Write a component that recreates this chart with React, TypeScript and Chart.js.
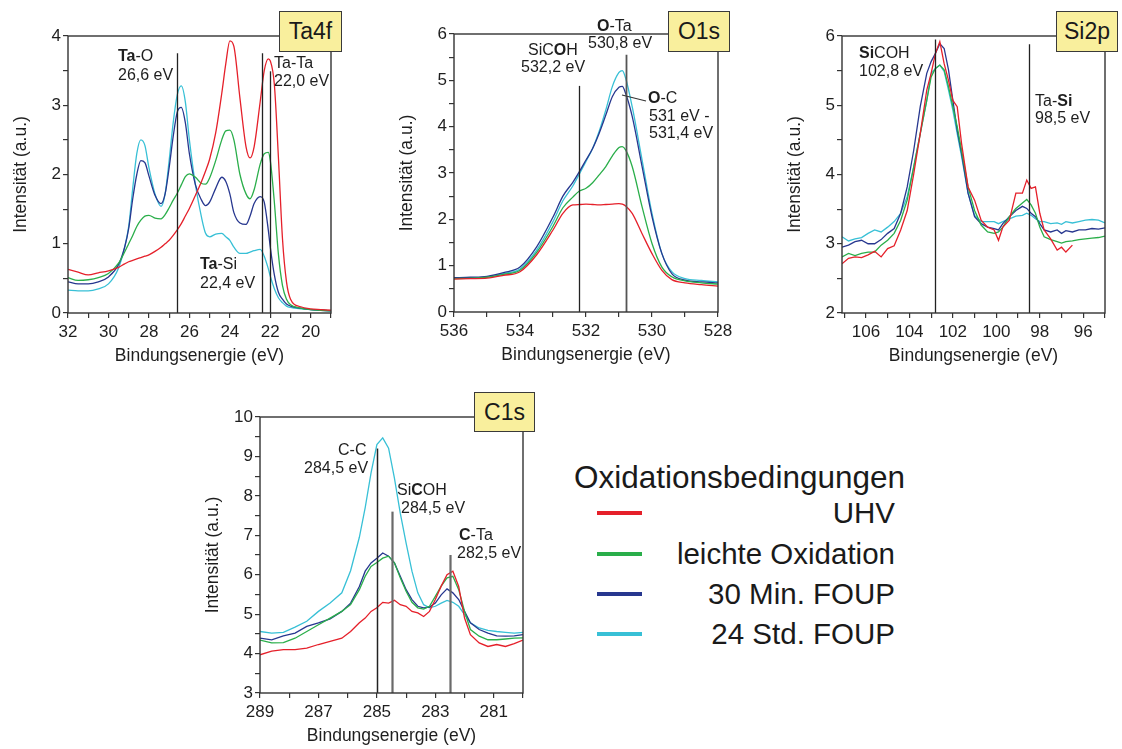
import React, { useEffect, useRef } from "react";
import { Chart, registerables } from "chart.js";

Chart.register(...registerables);

const FONT = '"Liberation Sans", Arial, Helvetica, sans-serif';
Chart.defaults.font.family = FONT;

// ---- series shared by all four spectra ----
const SERIES_NAMES = ["UHV", "leichte Oxidation", "30 Min. FOUP", "24 Std. FOUP"];
const SERIES_COLORS = ["#e5202a", "#2aae4a", "#27378f", "#38c0d6"];

// ---- Ta4f ----
const TA_ENERGY = [32, 31.5, 31, 30.5, 30, 29.5, 29.2, 29, 28.8, 28.6, 28.4, 28.2, 28, 27.7, 27.4, 27.2, 27, 26.8, 26.6, 26.4, 26.2, 26, 25.7, 25.4, 25.2, 25, 24.7, 24.4, 24.2, 24, 23.8, 23.5, 23.2, 23, 22.8, 22.5, 22.3, 22.1, 22, 21.8, 21.6, 21.4, 21.2, 21, 20.5, 20, 19.5, 19];
const TA_UHV = [0.63, 0.59, 0.55, 0.58, 0.61, 0.66, 0.71, 0.74, 0.76, 0.78, 0.8, 0.82, 0.84, 0.89, 0.95, 1.0, 1.05, 1.12, 1.2, 1.29, 1.4, 1.51, 1.7, 1.9, 2.05, 2.22, 2.6, 3.17, 3.6, 3.93, 3.85, 3.1, 2.4, 2.24, 2.4, 3.05, 3.5, 3.67, 3.64, 3.3, 2.25, 1.08, 0.45, 0.2, 0.09, 0.06, 0.05, 0.04];
const TA_LIGHT = [0.51, 0.47, 0.48, 0.51, 0.57, 0.72, 0.88, 1.0, 1.12, 1.25, 1.34, 1.4, 1.41, 1.37, 1.36, 1.42, 1.52, 1.63, 1.73, 1.85, 1.97, 2.01, 1.96, 1.87, 1.86, 1.95, 2.2, 2.5, 2.63, 2.64, 2.5, 2.0, 1.72, 1.65, 1.78, 2.15, 2.3, 2.32, 2.2, 1.6, 0.85, 0.4, 0.2, 0.12, 0.07, 0.05, 0.04, 0.03];
const TA_30MIN = [0.45, 0.42, 0.42, 0.45, 0.52, 0.7, 0.95, 1.22, 1.65, 2.0, 2.2, 2.17, 1.98, 1.7, 1.58, 1.72, 2.1, 2.55, 2.9, 2.97, 2.75, 2.3, 1.85, 1.63, 1.55, 1.6, 1.8, 1.96, 1.9, 1.72, 1.45, 1.3, 1.28, 1.4, 1.58, 1.68, 1.6, 1.2, 0.95, 0.55, 0.3, 0.2, 0.13, 0.1, 0.07, 0.05, 0.04, 0.03];
const TA_24H = [0.33, 0.32, 0.32, 0.35, 0.42, 0.65, 0.95, 1.25, 1.8, 2.3, 2.5, 2.42, 2.1, 1.72, 1.54, 1.72, 2.2, 2.75, 3.15, 3.28, 3.05, 2.5, 1.85, 1.38, 1.15, 1.1, 1.14, 1.15, 1.1, 1.05, 0.95, 0.86, 0.86, 0.88, 0.9, 0.92, 0.82, 0.64, 0.53, 0.35, 0.22, 0.15, 0.1, 0.08, 0.06, 0.05, 0.04, 0.03];
const TA_X_LABELS = [32, 30, 28, 26, 24, 22, 20];
const TA_Y_LABELS = [0, 1, 2, 3, 4];
const TA_MARKER_EV = [26.6, 22.4, 22.0];
const TA_MARKER_TOP = [3.75, 3.75, 3.49];

// ---- O1s ----
const O_ENERGY = [536, 535.5, 535, 534.5, 534, 533.5, 533, 532.7, 532.4, 532.2, 532, 531.8, 531.6, 531.4, 531.2, 531, 530.9, 530.8, 530.6, 530.3, 530, 529.7, 529.4, 529, 528.5, 528];
const O_UHV = [0.71, 0.72, 0.73, 0.79, 0.87, 1.23, 1.77, 2.13, 2.31, 2.32, 2.33, 2.32, 2.31, 2.32, 2.33, 2.34, 2.33, 2.29, 2.13, 1.69, 1.26, 0.9, 0.7, 0.63, 0.59, 0.56];
const O_LIGHT = [0.72, 0.73, 0.75, 0.81, 0.9, 1.28, 1.85, 2.25, 2.48, 2.61, 2.67, 2.79, 2.96, 3.14, 3.37, 3.55, 3.57, 3.5, 3.14, 2.27, 1.48, 0.97, 0.76, 0.67, 0.63, 0.6];
const O_30MIN = [0.74, 0.75, 0.77, 0.85, 0.97, 1.4, 2.05, 2.5, 2.8, 3.03, 3.28, 3.53, 3.86, 4.25, 4.65, 4.85, 4.87, 4.72, 4.22, 3.14, 2.06, 1.26, 0.83, 0.69, 0.65, 0.63];
const O_24H = [0.73, 0.74, 0.76, 0.83, 0.93, 1.33, 1.95, 2.4, 2.72, 2.98, 3.25, 3.53, 3.9, 4.36, 4.87, 5.17, 5.21, 5.05, 4.43, 3.28, 2.13, 1.26, 0.87, 0.72, 0.68, 0.65];
const O_X_LABELS = [536, 534, 532, 530, 528];
const O_Y_LABELS = [0, 1, 2, 3, 4, 5, 6];
const O_MARKER_EV = [532.2, 530.8];
const O_MARKER_TOP = [4.88, 5.55];

// ---- Si2p ----
const SI_ENERGY = [107.1, 106.8, 106.5, 106.2, 105.9, 105.6, 105.3, 105, 104.7, 104.4, 104.1, 103.8, 103.5, 103.2, 103, 102.8, 102.6, 102.4, 102.2, 102, 101.8, 101.6, 101.3, 101, 100.7, 100.4, 100.1, 99.9, 99.7, 99.4, 99.1, 98.8, 98.6, 98.4, 98.2, 98, 97.8, 97.5, 97.2, 97, 96.8, 96.5, 96.2, 95.9, 95.6, 95.3, 95];
const SI_UHV = [2.71, 2.79, 2.81, 2.8, 2.84, 2.89, 2.81, 2.93, 2.97, 3.2, 3.48, 4.01, 4.59, 5.22, 5.46, 5.75, 5.92, 5.6, 5.36, 5.07, 4.98, 4.45, 3.82, 3.63, 3.34, 3.24, 3.2, 3.05, 3.24, 3.34, 3.73, 3.73, 3.92, 3.8, 3.82, 3.44, 3.2, 3.07, 2.91, 2.95, 2.88, 2.98, null, null, null, null, null];
const SI_LIGHT = [2.81, 2.86, 2.83, 2.86, 2.88, 2.88, 2.98, 3.05, 3.15, 3.34, 3.63, 4.11, 4.59, 5.07, 5.41, 5.53, 5.58, 5.51, 5.27, 4.98, 4.69, 4.35, 3.82, 3.48, 3.27, 3.17, 3.15, 3.17, 3.24, 3.39, 3.51, 3.59, 3.64, 3.56, 3.44, 3.24, 3.1, 3.06, 3.03, 3.01, 3.03, 3.04, 3.06, 3.07, 3.08, 3.09, 3.11];
const SI_30MIN = [2.95, 2.98, 3.03, 3.05, 3.0, 3.0, 3.06, 3.15, 3.22, 3.44, 3.82, 4.35, 4.98, 5.46, 5.63, 5.75, 5.89, 5.82, 5.51, 5.07, 4.64, 4.31, 3.73, 3.39, 3.29, 3.24, 3.22, 3.2, 3.29, 3.39, 3.48, 3.54, 3.51, 3.44, 3.39, 3.29, 3.2, 3.17, 3.2, 3.15, 3.19, 3.17, 3.2, 3.2, 3.22, 3.21, 3.23];
const SI_24H = [3.1, 3.04, 3.07, 3.09, 3.15, 3.2, 3.17, 3.24, 3.32, 3.44, 3.68, 4.11, 4.59, 5.07, 5.46, 5.53, 5.58, 5.49, 5.22, 4.93, 4.59, 4.26, 3.73, 3.41, 3.32, 3.32, 3.32, 3.29, 3.32, 3.36, 3.4, 3.41, 3.44, 3.41, 3.36, 3.32, 3.32, 3.29, 3.3, 3.28, 3.32, 3.3, 3.32, 3.34, 3.35, 3.34, 3.3];
const SI_X_LABELS = [106, 104, 102, 100, 98, 96];
const SI_Y_LABELS = [2, 3, 4, 5, 6];
const SI_MARKER_EV = [102.8, 98.5];
const SI_MARKER_TOP = [5.95, 5.88];

// ---- C1s ----
const C_ENERGY = [289, 288.6, 288.2, 287.8, 287.4, 287, 286.6, 286.2, 285.9, 285.6, 285.4, 285.2, 285, 284.8, 284.6, 284.4, 284.2, 284, 283.8, 283.6, 283.4, 283.2, 283, 282.8, 282.6, 282.4, 282.2, 282, 281.8, 281.5, 281.2, 280.9, 280.6, 280.3, 280];
const C_UHV = [3.97, 4.06, 4.1, 4.1, 4.14, 4.23, 4.31, 4.39, 4.56, 4.78, 4.9, 5.07, 5.16, 5.3, 5.28, 5.35, 5.24, 5.2, 5.07, 5.03, 4.94, 5.07, 5.37, 5.71, 6.0, 6.09, 5.7, 4.9, 4.48, 4.27, 4.18, 4.23, 4.18, 4.25, 4.34];
const C_LIGHT = [4.34, 4.27, 4.28, 4.39, 4.56, 4.73, 4.9, 5.07, 5.24, 5.62, 5.96, 6.21, 6.31, 6.42, 6.47, 6.3, 5.92, 5.58, 5.3, 5.16, 5.13, 5.2, 5.45, 5.71, 5.92, 5.96, 5.62, 5.07, 4.61, 4.44, 4.35, 4.35, 4.37, 4.39, 4.4];
const C_30MIN = [4.39, 4.35, 4.45, 4.52, 4.69, 4.78, 4.88, 5.07, 5.28, 5.7, 6.09, 6.3, 6.42, 6.55, 6.47, 6.3, 5.96, 5.62, 5.37, 5.2, 5.16, 5.18, 5.28, 5.49, 5.64, 5.54, 5.37, 5.07, 4.78, 4.61, 4.52, 4.45, 4.44, 4.45, 4.48];
const C_24H = [4.56, 4.52, 4.54, 4.67, 4.82, 5.07, 5.28, 5.54, 6.1, 6.95, 7.7, 8.58, 9.3, 9.47, 9.21, 8.45, 7.56, 6.8, 6.09, 5.54, 5.24, 5.16, 5.2, 5.28, 5.35, 5.3, 5.2, 4.99, 4.78, 4.65, 4.59, 4.56, 4.54, 4.52, 4.54];
const C_X_LABELS = [289, 287, 285, 283, 281];
const C_Y_LABELS = [3, 4, 5, 6, 7, 8, 9, 10];
const C_MARKER_EV = [285.0, 284.5, 282.5];
const C_MARKER_TOP = [9.2, 7.6, 6.5];

type Part = [string, boolean];
type TextItem = { dx: number; dy: number; parts: Part[] };
type Rect = { left: number; top: number; right: number; bottom: number };

interface PanelDef {
  title: string;
  rect: Rect;
  box: { left: number; top: number; width: number; height: number };
  xMin: number;
  xMax: number;
  yMin: number;
  yMax: number;
  xLabels: number[];
  yLabels: number[];
  energy: number[];
  series: (number | null)[][];
  smooth: boolean;
  markerEv: number[];
  markerTop: number[];
  markerStyle: { color: string; width: number }[];
  texts: TextItem[];
  leaders?: [number, number, number, number][];
}

const T = (s: string): Part[] => [[s, false]];

const PANELS: PanelDef[] = [
  {
    title: "Ta4f",
    rect: { left: 68, top: 36, right: 331, bottom: 313 },
    box: { left: 279, top: 11, width: 63, height: 41 },
    xMin: 19, xMax: 32, yMin: 0, yMax: 4,
    xLabels: TA_X_LABELS, yLabels: TA_Y_LABELS,
    energy: TA_ENERGY,
    series: [TA_UHV, TA_LIGHT, TA_30MIN, TA_24H],
    smooth: true,
    markerEv: TA_MARKER_EV, markerTop: TA_MARKER_TOP,
    markerStyle: [
      { color: "#222", width: 1.3 },
      { color: "#222", width: 1.3 },
      { color: "#222", width: 1.3 },
    ],
    texts: [
      { dx: 50, dy: 25, parts: [["Ta", true], ["-O", false]] },
      { dx: 50, dy: 44, parts: T("26,6 eV") },
      { dx: 206, dy: 32, parts: T("Ta-Ta") },
      { dx: 206, dy: 50, parts: T("22,0 eV") },
      { dx: 132, dy: 233, parts: [["Ta", true], ["-Si", false]] },
      { dx: 132, dy: 252, parts: T("22,4 eV") },
    ],
  },
  {
    title: "O1s",
    rect: { left: 454, top: 34, right: 718, bottom: 312 },
    box: { left: 668, top: 11, width: 62, height: 41 },
    xMin: 528, xMax: 536, yMin: 0, yMax: 6,
    xLabels: O_X_LABELS, yLabels: O_Y_LABELS,
    energy: O_ENERGY,
    series: [O_UHV, O_LIGHT, O_30MIN, O_24H],
    smooth: true,
    markerEv: O_MARKER_EV, markerTop: O_MARKER_TOP,
    markerStyle: [
      { color: "#222", width: 1.3 },
      { color: "#555", width: 1.8 },
    ],
    texts: [
      { dx: 143, dy: -3, parts: [["O", true], ["-Ta", false]] },
      { dx: 134, dy: 14, parts: T("530,8 eV") },
      { dx: 74, dy: 21, parts: [["SiC", false], ["O", true], ["H", false]] },
      { dx: 67, dy: 38, parts: T("532,2 eV") },
      { dx: 194, dy: 69, parts: [["O", true], ["-C", false]] },
      { dx: 195, dy: 87, parts: T("531 eV -") },
      { dx: 195, dy: 104, parts: T("531,4 eV") },
    ],
    leaders: [[168, 61, 192, 67]],
  },
  {
    title: "Si2p",
    rect: { left: 842, top: 36, right: 1105, bottom: 313 },
    box: { left: 1056, top: 11, width: 62, height: 41 },
    xMin: 95, xMax: 107.1, yMin: 2, yMax: 6,
    xLabels: SI_X_LABELS, yLabels: SI_Y_LABELS,
    energy: SI_ENERGY,
    series: [SI_UHV, SI_LIGHT, SI_30MIN, SI_24H],
    smooth: false,
    markerEv: SI_MARKER_EV, markerTop: SI_MARKER_TOP,
    markerStyle: [
      { color: "#222", width: 1.3 },
      { color: "#222", width: 1.3 },
    ],
    texts: [
      { dx: 17, dy: 22, parts: [["Si", true], ["COH", false]] },
      { dx: 17, dy: 40, parts: T("102,8 eV") },
      { dx: 193, dy: 70, parts: [["Ta-", false], ["Si", true]] },
      { dx: 193, dy: 87, parts: T("98,5 eV") },
    ],
  },
  {
    title: "C1s",
    rect: { left: 260, top: 417, right: 523, bottom: 693 },
    box: { left: 474, top: 392, width: 61, height: 40 },
    xMin: 280, xMax: 289, yMin: 3, yMax: 10,
    xLabels: C_X_LABELS, yLabels: C_Y_LABELS,
    energy: C_ENERGY,
    series: [C_UHV, C_LIGHT, C_30MIN, C_24H],
    smooth: false,
    markerEv: C_MARKER_EV, markerTop: C_MARKER_TOP,
    markerStyle: [
      { color: "#222", width: 1.5 },
      { color: "#6a6a6a", width: 2.2 },
      { color: "#6a6a6a", width: 2.2 },
    ],
    texts: [
      { dx: 78, dy: 38, parts: T("C-C") },
      { dx: 44, dy: 56, parts: T("284,5 eV") },
      { dx: 137, dy: 78, parts: [["Si", false], ["C", true], ["OH", false]] },
      { dx: 141, dy: 96, parts: T("284,5 eV") },
      { dx: 199, dy: 123, parts: [["C", true], ["-Ta", false]] },
      { dx: 197, dy: 141, parts: T("282,5 eV") },
    ],
  },
];

// canvas margins around each plot area
const PAD_L = 59;
const PAD_T = 40;
const PAD_R = 30;
const PAD_B = 60;
const Y_AXIS_W = 57;
const X_AXIS_H = 54;

function tickRange(from: number, to: number, step: number): number[] {
  const out: number[] = [];
  const start = Math.ceil(from / step - 1e-9) * step;
  for (let v = start; v <= to + 1e-9; v += step) out.push(Math.round(v * 100) / 100);
  return out;
}

function Panel({ def }: { def: PanelDef }) {
  const ref = useRef<HTMLCanvasElement>(null);
  const plotW = def.rect.right - def.rect.left;
  const plotH = def.rect.bottom - def.rect.top;
  const cw = plotW + PAD_L + PAD_R;
  const ch = plotH + PAD_T + PAD_B;

  useEffect(() => {
    const canvas = ref.current;
    if (!canvas) return;
    const xTicks = tickRange(def.xMin, def.xMax, 1);
    const yTicks = tickRange(def.yMin, def.yMax, 0.5);

    const overlay = {
      id: "panelOverlay",
      afterDatasetsDraw(chart: any) {
        const { ctx, chartArea: a, scales } = chart;
        const xs = scales.x;
        const ys = scales.y;
        ctx.save();
        // reference lines at the binding energies
        def.markerEv.forEach((ev, i) => {
          const st = def.markerStyle[i];
          const px = Math.round(xs.getPixelForValue(ev)) + 0.5;
          ctx.beginPath();
          ctx.strokeStyle = st.color;
          ctx.lineWidth = st.width;
          ctx.moveTo(px, ys.getPixelForValue(def.markerTop[i]));
          ctx.lineTo(px, a.bottom);
          ctx.stroke();
        });
        (def.leaders || []).forEach(([x1, y1, x2, y2]) => {
          ctx.beginPath();
          ctx.strokeStyle = "#333";
          ctx.lineWidth = 1.2;
          ctx.moveTo(a.left + x1, a.top + y1);
          ctx.lineTo(a.left + x2, a.top + y2);
          ctx.stroke();
        });
        // frame
        ctx.strokeStyle = "#333";
        ctx.lineWidth = 1.4;
        ctx.strokeRect(a.left, a.top, a.right - a.left, a.bottom - a.top);
        // labels
        ctx.fillStyle = "#1e1e1e";
        ctx.textBaseline = "alphabetic";
        ctx.textAlign = "left";
        def.texts.forEach((t) => {
          let x = a.left + t.dx;
          const y = a.top + t.dy;
          t.parts.forEach(([s, bold]) => {
            ctx.font = `${bold ? "bold " : ""}16px ${FONT}`;
            ctx.fillText(s, x, y);
            x += ctx.measureText(s).width;
          });
        });
        ctx.restore();
      },
    };

    const chart = new Chart(canvas, {
      type: "line",
      data: {
        datasets: def.series.map((s, i) => ({
          label: SERIES_NAMES[i],
          data: def.energy.map((e, j) => ({ x: e, y: s[j] })),
          borderColor: SERIES_COLORS[i],
          backgroundColor: SERIES_COLORS[i],
          borderWidth: 1.3,
          pointRadius: 0,
          fill: false,
          spanGaps: false,
          cubicInterpolationMode: def.smooth ? "monotone" : "default",
          tension: def.smooth ? 0.4 : 0,
        })),
      },
      options: {
        responsive: false,
        animation: false,
        events: [],
        layout: {
          padding: { left: PAD_L - Y_AXIS_W, top: PAD_T, right: PAD_R, bottom: PAD_B - X_AXIS_H },
        },
        plugins: { legend: { display: false }, tooltip: { enabled: false } },
        scales: {
          x: {
            type: "linear",
            reverse: true,
            min: def.xMin,
            max: def.xMax,
            afterBuildTicks: (s: any) => {
              s.ticks = xTicks.map((v) => ({ value: v }));
            },
            afterFit: (s: any) => {
              s.height = X_AXIS_H;
              s.paddingLeft = 0;
              s.paddingRight = 0;
            },
            ticks: {
              autoSkip: false,
              maxRotation: 0,
              minRotation: 0,
              padding: 4,
              color: "#1e1e1e",
              font: { size: 17 },
              callback: (v: any) => (def.xLabels.includes(Number(v)) ? String(v) : ""),
            },
            grid: { drawOnChartArea: false, drawTicks: true, tickLength: 5, color: "#333", lineWidth: 1.2 },
            border: { display: false },
            title: {
              display: true,
              text: "Bindungsenergie (eV)",
              color: "#1e1e1e",
              font: { size: 17.5, lineHeight: 1.2 },
              padding: 0,
            },
          },
          y: {
            type: "linear",
            min: def.yMin,
            max: def.yMax,
            afterBuildTicks: (s: any) => {
              s.ticks = yTicks.map((v) => ({ value: v }));
            },
            afterFit: (s: any) => {
              s.width = Y_AXIS_W;
              s.paddingTop = 0;
              s.paddingBottom = 0;
            },
            ticks: {
              autoSkip: false,
              padding: 2,
              color: "#1e1e1e",
              font: { size: 17 },
              callback: (v: any) => (def.yLabels.includes(Number(v)) ? String(v) : ""),
            },
            grid: { drawOnChartArea: false, drawTicks: true, tickLength: 5, color: "#333", lineWidth: 1.2 },
            border: { display: false },
            title: {
              display: true,
              text: "Intensität (a.u.)",
              color: "#1e1e1e",
              font: { size: 17.5, lineHeight: 1.2 },
              padding: 0,
            },
          },
        },
      },
      plugins: [overlay],
    } as any);
    return () => chart.destroy();
  }, [def]);

  return (
    <>
      <canvas
        ref={ref}
        width={cw}
        height={ch}
        style={{
          position: "absolute",
          left: def.rect.left - PAD_L,
          top: def.rect.top - PAD_T,
          width: cw,
          height: ch,
        }}
      />
      <div
        style={{
          position: "absolute",
          left: def.box.left,
          top: def.box.top,
          width: def.box.width,
          height: def.box.height,
          boxSizing: "border-box",
          background: "#f9ef9d",
          border: "1.5px solid #3a3a3a",
          display: "flex",
          alignItems: "center",
          justifyContent: "center",
          fontFamily: FONT,
          fontSize: 23,
          color: "#1a1a1a",
          zIndex: 2,
        }}
      >
        {def.title}
      </div>
    </>
  );
}

const LEGEND_ROW_Y = [513, 554, 594, 634];

function Legend() {
  return (
    <>
      <div
        style={{
          position: "absolute",
          left: 574,
          top: 462,
          fontFamily: FONT,
          fontSize: 31.5,
          lineHeight: 1,
          color: "#1a1a1a",
          whiteSpace: "nowrap",
        }}
      >
        Oxidationsbedingungen
      </div>
      {SERIES_NAMES.map((name, i) => (
        <React.Fragment key={name}>
          <div
            style={{
              position: "absolute",
              left: 597,
              top: LEGEND_ROW_Y[i] - 2,
              width: 45,
              height: 4,
              background: SERIES_COLORS[i],
            }}
          />
          <div
            style={{
              position: "absolute",
              left: 560,
              width: 335,
              top: LEGEND_ROW_Y[i] - 15,
              textAlign: "right",
              fontFamily: FONT,
              fontSize: 29.5,
              lineHeight: 1,
              color: "#1a1a1a",
              whiteSpace: "nowrap",
            }}
          >
            {name}
          </div>
        </React.Fragment>
      ))}
    </>
  );
}

export default function App() {
  return (
    <div
      style={{
        position: "absolute",
        left: 0,
        top: 0,
        width: 1122,
        height: 749,
        overflow: "hidden",
        background: "#ffffff",
      }}
    >
      {PANELS.map((p) => (
        <Panel key={p.title} def={p} />
      ))}
      <Legend />
    </div>
  );
}
